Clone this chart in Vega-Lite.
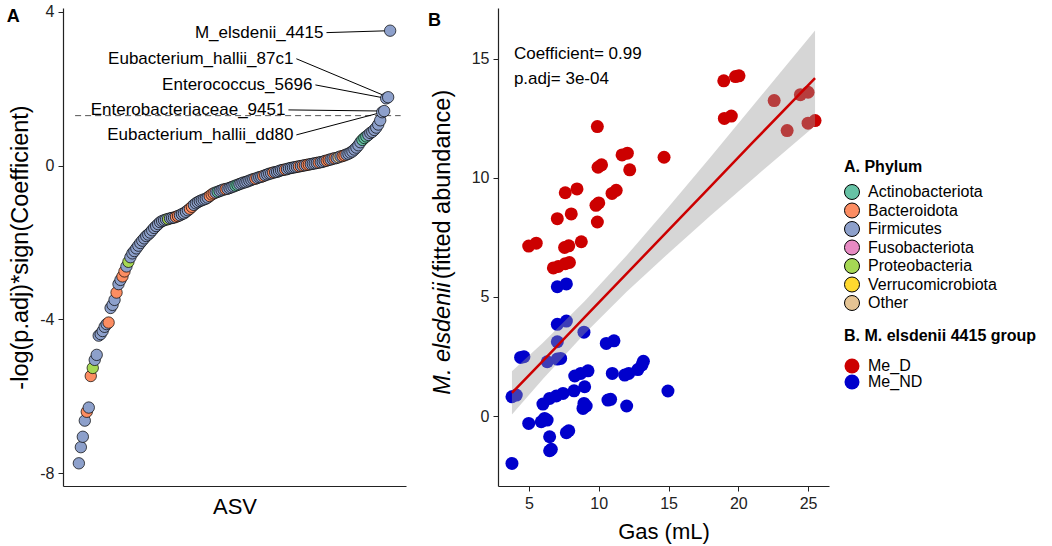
{
  "$schema": "https://vega.github.io/schema/vega-lite/v6.json",
  "padding": {"left": 6, "top": 3, "right": 5, "bottom": 2},
  "background": "white",
  "config": {
    "view": {"stroke": null},
    "font": "Liberation Sans",
    "axis": {"grid": false, "domainColor": "#222222", "tickColor": "#222222", "labelColor": "#222222", "titleColor": "#000000", "labelFontSize": 16, "titleFontSize": 22, "titleFontWeight": "normal", "tickSize": 5, "labelPadding": 4, "domainWidth": 1.2},
    "axisY": {"titleFontSize": 23.5},
    "legend": {"titleFontSize": 16, "titleFontWeight": "bold", "titleColor": "#000000", "labelColor": "#000000", "labelFontSize": 16, "rowPadding": -1.5, "titlePadding": 9, "labelOffset": 8, "padding": 0, "symbolType": "circle", "symbolSize": 225, "titleLimit": 400, "labelLimit": 300}
  },
  "datasets": {
    "asv": [
      {"r":1,"v":-7.74,"p":"Firmicutes"},{"r":2,"v":-7.32,"p":"Firmicutes"},{"r":3,"v":-7.05,"p":"Firmicutes"},{"r":4,"v":-6.63,"p":"Firmicutes"},{"r":5,"v":-6.4,"p":"Bacteroidota"},{"r":6,"v":-6.29,"p":"Firmicutes"},{"r":7,"v":-5.47,"p":"Bacteroidota"},{"r":8,"v":-5.26,"p":"Proteobacteria"},{"r":9,"v":-5.05,"p":"Firmicutes"},{"r":10,"v":-4.92,"p":"Firmicutes"},
      {"r":11,"v":-4.42,"p":"Firmicutes"},{"r":12,"v":-4.38,"p":"Firmicutes"},{"r":13,"v":-4.3,"p":"Firmicutes"},{"r":14,"v":-4.19,"p":"Firmicutes"},{"r":15,"v":-4.12,"p":"Firmicutes"},{"r":16,"v":-4.08,"p":"Bacteroidota"},{"r":17,"v":-3.7,"p":"Firmicutes"},{"r":18,"v":-3.62,"p":"Firmicutes"},{"r":19,"v":-3.49,"p":"Firmicutes"},{"r":20,"v":-3.3,"p":"Bacteroidota"},
      {"r":21,"v":-3.08,"p":"Firmicutes"},{"r":22,"v":-2.97,"p":"Firmicutes"},{"r":23,"v":-2.88,"p":"Bacteroidota"},{"r":24,"v":-2.75,"p":"Bacteroidota"},{"r":25,"v":-2.62,"p":"Firmicutes"},{"r":26,"v":-2.5,"p":"Proteobacteria"},{"r":27,"v":-2.38,"p":"Firmicutes"},{"r":28,"v":-2.28,"p":"Firmicutes"},{"r":29,"v":-2.22,"p":"Firmicutes"},{"r":30,"v":-2.15,"p":"Firmicutes"},
      {"r":31,"v":-2.08,"p":"Firmicutes"},{"r":32,"v":-2.01,"p":"Firmicutes"},{"r":33,"v":-1.95,"p":"Firmicutes"},{"r":34,"v":-1.89,"p":"Firmicutes"},{"r":35,"v":-1.83,"p":"Firmicutes"},{"r":36,"v":-1.79,"p":"Firmicutes"},{"r":37,"v":-1.74,"p":"Firmicutes"},{"r":38,"v":-1.68,"p":"Firmicutes"},{"r":39,"v":-1.62,"p":"Firmicutes"},{"r":40,"v":-1.57,"p":"Firmicutes"},
      {"r":41,"v":-1.52,"p":"Firmicutes"},{"r":42,"v":-1.47,"p":"Firmicutes"},{"r":43,"v":-1.44,"p":"Firmicutes"},{"r":44,"v":-1.42,"p":"Firmicutes"},{"r":45,"v":-1.4,"p":"Firmicutes"},{"r":46,"v":-1.39,"p":"Proteobacteria"},{"r":47,"v":-1.37,"p":"Firmicutes"},{"r":48,"v":-1.36,"p":"Firmicutes"},{"r":49,"v":-1.35,"p":"Firmicutes"},{"r":50,"v":-1.33,"p":"Bacteroidota"},
      {"r":51,"v":-1.31,"p":"Bacteroidota"},{"r":52,"v":-1.29,"p":"Firmicutes"},{"r":53,"v":-1.26,"p":"Firmicutes"},{"r":54,"v":-1.24,"p":"Firmicutes"},{"r":55,"v":-1.2,"p":"Firmicutes"},{"r":56,"v":-1.16,"p":"Firmicutes"},{"r":57,"v":-1.12,"p":"Bacteroidota"},{"r":58,"v":-1.07,"p":"Bacteroidota"},{"r":59,"v":-1.02,"p":"Firmicutes"},{"r":60,"v":-0.98,"p":"Firmicutes"},
      {"r":61,"v":-0.95,"p":"Firmicutes"},{"r":62,"v":-0.92,"p":"Firmicutes"},{"r":63,"v":-0.9,"p":"Firmicutes"},{"r":64,"v":-0.88,"p":"Firmicutes"},{"r":65,"v":-0.86,"p":"Firmicutes"},{"r":66,"v":-0.83,"p":"Firmicutes"},{"r":67,"v":-0.79,"p":"Bacteroidota"},{"r":68,"v":-0.75,"p":"Bacteroidota"},{"r":69,"v":-0.72,"p":"Bacteroidota"},{"r":70,"v":-0.7,"p":"Firmicutes"},
      {"r":71,"v":-0.68,"p":"Actinobacteriota"},{"r":72,"v":-0.66,"p":"Firmicutes"},{"r":73,"v":-0.64,"p":"Firmicutes"},{"r":74,"v":-0.62,"p":"Firmicutes"},{"r":75,"v":-0.61,"p":"Bacteroidota"},{"r":76,"v":-0.6,"p":"Firmicutes"},{"r":77,"v":-0.58,"p":"Firmicutes"},{"r":78,"v":-0.56,"p":"Firmicutes"},{"r":79,"v":-0.54,"p":"Firmicutes"},{"r":80,"v":-0.52,"p":"Actinobacteriota"},
      {"r":81,"v":-0.5,"p":"Actinobacteriota"},{"r":82,"v":-0.48,"p":"Firmicutes"},{"r":83,"v":-0.46,"p":"Firmicutes"},{"r":84,"v":-0.44,"p":"Firmicutes"},{"r":85,"v":-0.43,"p":"Firmicutes"},{"r":86,"v":-0.41,"p":"Firmicutes"},{"r":87,"v":-0.39,"p":"Firmicutes"},{"r":88,"v":-0.37,"p":"Firmicutes"},{"r":89,"v":-0.35,"p":"Firmicutes"},{"r":90,"v":-0.34,"p":"Bacteroidota"},
      {"r":91,"v":-0.32,"p":"Firmicutes"},{"r":92,"v":-0.3,"p":"Firmicutes"},{"r":93,"v":-0.29,"p":"Firmicutes"},{"r":94,"v":-0.27,"p":"Bacteroidota"},{"r":95,"v":-0.25,"p":"Firmicutes"},{"r":96,"v":-0.23,"p":"Firmicutes"},{"r":97,"v":-0.21,"p":"Firmicutes"},{"r":98,"v":-0.2,"p":"Firmicutes"},{"r":99,"v":-0.18,"p":"Bacteroidota"},{"r":100,"v":-0.17,"p":"Firmicutes"},
      {"r":101,"v":-0.16,"p":"Firmicutes"},{"r":102,"v":-0.14,"p":"Firmicutes"},{"r":103,"v":-0.12,"p":"Firmicutes"},{"r":104,"v":-0.11,"p":"Firmicutes"},{"r":105,"v":-0.1,"p":"Bacteroidota"},{"r":106,"v":-0.09,"p":"Firmicutes"},{"r":107,"v":-0.07,"p":"Firmicutes"},{"r":108,"v":-0.06,"p":"Firmicutes"},{"r":109,"v":-0.05,"p":"Firmicutes"},{"r":110,"v":-0.04,"p":"Firmicutes"},
      {"r":111,"v":-0.03,"p":"Firmicutes"},{"r":112,"v":-0.02,"p":"Bacteroidota"},{"r":113,"v":-0.01,"p":"Firmicutes"},{"r":114,"v":0.0,"p":"Bacteroidota"},{"r":115,"v":0.01,"p":"Firmicutes"},{"r":116,"v":0.02,"p":"Bacteroidota"},{"r":117,"v":0.03,"p":"Bacteroidota"},{"r":118,"v":0.04,"p":"Firmicutes"},{"r":119,"v":0.05,"p":"Firmicutes"},{"r":120,"v":0.06,"p":"Firmicutes"},
      {"r":121,"v":0.07,"p":"Firmicutes"},{"r":122,"v":0.08,"p":"Bacteroidota"},{"r":123,"v":0.09,"p":"Firmicutes"},{"r":124,"v":0.1,"p":"Firmicutes"},{"r":125,"v":0.12,"p":"Firmicutes"},{"r":126,"v":0.13,"p":"Bacteroidota"},{"r":127,"v":0.15,"p":"Bacteroidota"},{"r":128,"v":0.16,"p":"Firmicutes"},{"r":129,"v":0.18,"p":"Firmicutes"},{"r":130,"v":0.19,"p":"Bacteroidota"},
      {"r":131,"v":0.2,"p":"Firmicutes"},{"r":132,"v":0.22,"p":"Other"},{"r":133,"v":0.24,"p":"Firmicutes"},{"r":134,"v":0.25,"p":"Bacteroidota"},{"r":135,"v":0.27,"p":"Bacteroidota"},{"r":136,"v":0.29,"p":"Firmicutes"},{"r":137,"v":0.31,"p":"Firmicutes"},{"r":138,"v":0.34,"p":"Firmicutes"},{"r":139,"v":0.37,"p":"Firmicutes"},{"r":140,"v":0.42,"p":"Firmicutes"},
      {"r":141,"v":0.47,"p":"Firmicutes"},{"r":142,"v":0.53,"p":"Firmicutes"},{"r":143,"v":0.61,"p":"Firmicutes"},{"r":144,"v":0.67,"p":"Actinobacteriota"},{"r":145,"v":0.72,"p":"Actinobacteriota"},{"r":146,"v":0.76,"p":"Actinobacteriota"},{"r":147,"v":0.8,"p":"Firmicutes"},{"r":148,"v":0.85,"p":"Firmicutes"},{"r":149,"v":0.88,"p":"Firmicutes"},{"r":150,"v":0.93,"p":"Firmicutes"},
      {"r":151,"v":0.99,"p":"Firmicutes"},{"r":152,"v":1.07,"p":"Firmicutes"},{"r":153,"v":1.18,"p":"Firmicutes"},{"r":154,"v":1.39,"p":"Firmicutes"},{"r":155,"v":1.42,"p":"Firmicutes"},{"r":156,"v":1.75,"p":"Firmicutes"},{"r":157,"v":1.78,"p":"Firmicutes"},{"r":158,"v":3.51,"p":"Firmicutes"}
    ],
    "asvLabels": [
      {"name":"M_elsdenii_4415","lx":125.9,"ly":3.46,"px":158,"py":3.51},
      {"name":"Eubacterium_hallii_87c1","lx":110.7,"ly":2.78,"px":157,"py":1.78},
      {"name":"Enterococcus_5696","lx":120.3,"ly":2.1,"px":156,"py":1.75},
      {"name":"Enterobacteriaceae_9451","lx":106.7,"ly":1.45,"px":155,"py":1.42},
      {"name":"Eubacterium_hallii_dd80","lx":110.7,"ly":0.8,"px":154,"py":1.39}
    ],
    "gas": [
      {"g":9.9,"a":12.16,"grp":"Me_D"},{"g":11.67,"a":10.97,"grp":"Me_D"},{"g":12.05,"a":11.04,"grp":"Me_D"},{"g":14.68,"a":10.87,"grp":"Me_D"},{"g":9.95,"a":10.45,"grp":"Me_D"},{"g":10.2,"a":10.55,"grp":"Me_D"},{"g":12.22,"a":10.34,"grp":"Me_D"},{"g":7.6,"a":9.38,"grp":"Me_D"},{"g":8.44,"a":9.54,"grp":"Me_D"},{"g":10.95,"a":9.35,"grp":"Me_D"},
      {"g":11.25,"a":9.48,"grp":"Me_D"},{"g":9.8,"a":8.85,"grp":"Me_D"},{"g":10.0,"a":8.95,"grp":"Me_D"},{"g":7.03,"a":8.29,"grp":"Me_D"},{"g":8.03,"a":8.49,"grp":"Me_D"},{"g":9.9,"a":8.15,"grp":"Me_D"},{"g":4.98,"a":7.14,"grp":"Me_D"},{"g":5.52,"a":7.26,"grp":"Me_D"},{"g":7.55,"a":7.08,"grp":"Me_D"},{"g":7.85,"a":7.15,"grp":"Me_D"},
      {"g":8.75,"a":7.32,"grp":"Me_D"},{"g":6.75,"a":6.22,"grp":"Me_D"},{"g":7.1,"a":6.28,"grp":"Me_D"},{"g":7.6,"a":6.4,"grp":"Me_D"},{"g":7.9,"a":6.45,"grp":"Me_D"},{"g":18.96,"a":14.08,"grp":"Me_D"},{"g":19.8,"a":14.26,"grp":"Me_D"},{"g":20.05,"a":14.29,"grp":"Me_D"},{"g":19.0,"a":12.5,"grp":"Me_D"},{"g":19.5,"a":12.6,"grp":"Me_D"},
      {"g":22.57,"a":13.25,"grp":"Me_D"},{"g":24.45,"a":13.5,"grp":"Me_D"},{"g":25.0,"a":13.6,"grp":"Me_D"},{"g":23.5,"a":11.99,"grp":"Me_D"},{"g":25.0,"a":12.3,"grp":"Me_D"},{"g":25.5,"a":12.41,"grp":"Me_D"},
      {"g":7.03,"a":5.43,"grp":"Me_ND"},{"g":7.68,"a":5.55,"grp":"Me_ND"},{"g":7.03,"a":3.85,"grp":"Me_ND"},{"g":7.68,"a":3.99,"grp":"Me_ND"},{"g":8.94,"a":3.52,"grp":"Me_ND"},{"g":7.03,"a":3.12,"grp":"Me_ND"},{"g":10.54,"a":3.05,"grp":"Me_ND"},{"g":11.09,"a":3.16,"grp":"Me_ND"},{"g":4.4,"a":2.46,"grp":"Me_ND"},{"g":4.64,"a":2.49,"grp":"Me_ND"},
      {"g":6.31,"a":2.28,"grp":"Me_ND"},{"g":7.03,"a":2.39,"grp":"Me_ND"},{"g":7.27,"a":2.42,"grp":"Me_ND"},{"g":13.1,"a":2.15,"grp":"Me_ND"},{"g":13.2,"a":2.3,"grp":"Me_ND"},{"g":12.8,"a":1.95,"grp":"Me_ND"},{"g":8.28,"a":1.68,"grp":"Me_ND"},{"g":8.71,"a":1.79,"grp":"Me_ND"},{"g":9.23,"a":1.9,"grp":"Me_ND"},{"g":10.97,"a":1.79,"grp":"Me_ND"},
      {"g":11.86,"a":1.72,"grp":"Me_ND"},{"g":12.15,"a":1.79,"grp":"Me_ND"},{"g":3.78,"a":0.81,"grp":"Me_ND"},{"g":4.09,"a":0.88,"grp":"Me_ND"},{"g":8.23,"a":1.06,"grp":"Me_ND"},{"g":8.99,"a":1.23,"grp":"Me_ND"},{"g":7.44,"a":0.95,"grp":"Me_ND"},{"g":6.96,"a":0.84,"grp":"Me_ND"},{"g":6.48,"a":0.74,"grp":"Me_ND"},{"g":6.0,"a":0.5,"grp":"Me_ND"},
      {"g":14.96,"a":1.05,"grp":"Me_ND"},{"g":10.66,"a":0.67,"grp":"Me_ND"},{"g":10.85,"a":0.7,"grp":"Me_ND"},{"g":8.94,"a":0.53,"grp":"Me_ND"},{"g":8.87,"a":0.32,"grp":"Me_ND"},{"g":9.1,"a":0.42,"grp":"Me_ND"},{"g":12.0,"a":0.42,"grp":"Me_ND"},{"g":4.98,"a":-0.31,"grp":"Me_ND"},{"g":5.88,"a":-0.24,"grp":"Me_ND"},{"g":6.12,"a":-0.1,"grp":"Me_ND"},
      {"g":6.3,"a":-0.17,"grp":"Me_ND"},{"g":6.48,"a":-0.87,"grp":"Me_ND"},{"g":7.68,"a":-0.7,"grp":"Me_ND"},{"g":7.85,"a":-0.62,"grp":"Me_ND"},{"g":6.48,"a":-1.46,"grp":"Me_ND"},{"g":6.6,"a":-1.4,"grp":"Me_ND"},{"g":3.78,"a":-1.99,"grp":"Me_ND"}
    ],
    "fit": [
      {"g":3.78,"fit":0.97,"lo":0.06,"hi":1.88},
      {"g":6,"fit":2.32,"lo":1.56,"hi":3.08},
      {"g":9,"fit":4.15,"lo":3.47,"hi":4.83},
      {"g":12,"fit":5.98,"lo":5.22,"hi":6.74},
      {"g":15,"fit":7.81,"lo":6.84,"hi":8.78},
      {"g":18,"fit":9.64,"lo":8.41,"hi":10.87},
      {"g":21,"fit":11.47,"lo":9.94,"hi":13.0},
      {"g":25.5,"fit":14.19,"lo":12.19,"hi":16.19}
    ],
    "stats": [
      {"g":3.92,"a":15.2,"t":"Coefficient= 0.99"},
      {"g":3.92,"a":14.15,"t":"p.adj= 3e-04"}
    ]
  },
  "spacing": 22,
  "resolve": {"scale": {"color": "shared", "fill": "shared"}, "legend": {"color": "shared", "fill": "shared"}},
  "hconcat": [
    {
      "width": 343,
      "height": 478,
      "title": {"text": "A", "anchor": "start", "frame": "bounds", "fontSize": 18, "fontWeight": "bold", "offset": 0, "dy": 22, "dx": -2, "color": "#000000"},
      "layer": [
        {
          "data": {"values": [{"x1": -0.9, "x2": 163.3, "y": 1.301}]},
          "mark": {"type": "rule", "strokeDash": [6, 4], "color": "#555555", "strokeWidth": 1},
          "encoding": {
            "x": {"field": "x1", "type": "quantitative", "scale": {"domain": [-7, 166], "nice": false, "zero": false}, "axis": {"title": "ASV", "labels": false, "ticks": false, "titlePadding": 10}},
            "x2": {"field": "x2"},
            "y": {"field": "y", "type": "quantitative", "scale": {"domain": [-8.33, 4.1], "nice": false, "zero": false}, "axis": {"title": "-log(p.adj)*sign(Coefficient)", "values": [-8, -4, 0, 4], "labelExpr": "'' + datum.value", "titlePadding": 7}}
          }
        },
        {
          "data": {"name": "asvLabels"},
          "mark": {"type": "rule", "color": "#000000", "strokeWidth": 1},
          "encoding": {
            "x": {"field": "lx", "type": "quantitative"},
            "x2": {"field": "px"},
            "y": {"field": "ly", "type": "quantitative"},
            "y2": {"field": "py"}
          }
        },
        {
          "data": {"name": "asv"},
          "mark": {"type": "circle", "size": 130, "stroke": "#000000", "strokeWidth": 0.7, "opacity": 1},
          "encoding": {
            "x": {"field": "r", "type": "quantitative"},
            "y": {"field": "v", "type": "quantitative"},
            "fill": {"field": "p", "type": "nominal",
              "scale": {"domain": ["Actinobacteriota", "Bacteroidota", "Firmicutes", "Fusobacteriota", "Proteobacteria", "Verrucomicrobiota", "Other"], "range": ["#66C2A5", "#FC8D62", "#8DA0CB", "#E78AC3", "#A6D854", "#FFD92F", "#E5C494"]},
              "legend": {"title": "A. Phylum", "orient": "none", "legendX": 781, "legendY": 151, "symbolStrokeColor": "#000000", "symbolStrokeWidth": 1, "symbolOpacity": 1}}
          }
        },
        {
          "data": {"name": "asvLabels"},
          "mark": {"type": "text", "align": "right", "baseline": "middle", "fontSize": 17, "dx": -3, "color": "#000000"},
          "encoding": {
            "x": {"field": "lx", "type": "quantitative"},
            "y": {"field": "ly", "type": "quantitative"},
            "text": {"field": "name"}
          }
        }
      ]
    },
    {
      "width": 331,
      "height": 478,
      "title": {"text": "B", "anchor": "start", "frame": "bounds", "fontSize": 18, "fontWeight": "bold", "offset": 0, "dy": 22, "dx": -2, "color": "#000000"},
      "layer": [
        {
          "layer": [
            {
              "data": {"name": "gas"},
              "mark": {"type": "circle", "size": 169, "opacity": 1},
              "encoding": {
                "x": {"field": "g", "type": "quantitative", "scale": {"domain": [2.78, 26.5], "nice": false, "zero": false}, "axis": {"title": "Gas (mL)", "values": [5, 10, 15, 20, 25], "titlePadding": 10}},
                "y": {"field": "a", "type": "quantitative", "scale": {"domain": [-2.94, 17.14], "nice": false, "zero": false}, "axis": {"title": "(fitted abundance)", "values": [0, 5, 10, 15], "titleX": -44, "titleY": 176}},
                "color": {"field": "grp", "type": "nominal", "scale": {"domain": ["Me_D", "Me_ND"], "range": ["#CC0000", "#0000CC"]},
                  "legend": {"title": "B. M. elsdenii 4415 group", "orient": "none", "legendX": 781, "legendY": 320, "titlePadding": 14, "symbolStrokeWidth": 0, "symbolOpacity": 1}}
              }
            },
            {
              "data": {"name": "fit"},
              "mark": {"type": "area", "color": "#999999", "opacity": 0.4},
              "encoding": {
                "x": {"field": "g", "type": "quantitative", "axis": {"title": "Gas (mL)", "values": [5, 10, 15, 20, 25], "titlePadding": 10}},
                "y": {"field": "lo", "type": "quantitative", "axis": {"title": "(fitted abundance)", "values": [0, 5, 10, 15], "titleX": -44, "titleY": 176}},
                "y2": {"field": "hi"}
              }
            },
            {
              "data": {"name": "fit"},
              "mark": {"type": "line", "color": "#CC0000", "strokeWidth": 2.5},
              "encoding": {
                "x": {"field": "g", "type": "quantitative", "axis": {"title": "Gas (mL)", "values": [5, 10, 15, 20, 25], "titlePadding": 10}},
                "y": {"field": "fit", "type": "quantitative", "axis": {"title": "(fitted abundance)", "values": [0, 5, 10, 15], "titleX": -44, "titleY": 176}}
              }
            }
          ]
        },
        {
          "data": {"name": "stats"},
          "mark": {"type": "text", "align": "left", "baseline": "middle", "fontSize": 17, "color": "#000000"},
          "encoding": {
            "x": {"field": "g", "type": "quantitative", "axis": {"title": "Gas (mL)", "values": [5, 10, 15, 20, 25], "titlePadding": 10}},
            "y": {"field": "a", "type": "quantitative", "scale": {"domain": [-2.94, 17.14], "nice": false, "zero": false}, "axis": {"orient": "left", "title": "M. elsdenii", "titleFontStyle": "italic", "labels": false, "ticks": false, "domain": false, "titleX": -44, "titleY": 330}},
            "text": {"field": "t"}
          }
        }
      ],
      "resolve": {"scale": {"y": "independent"}, "axis": {"y": "independent"}}
    }
  ]
}
